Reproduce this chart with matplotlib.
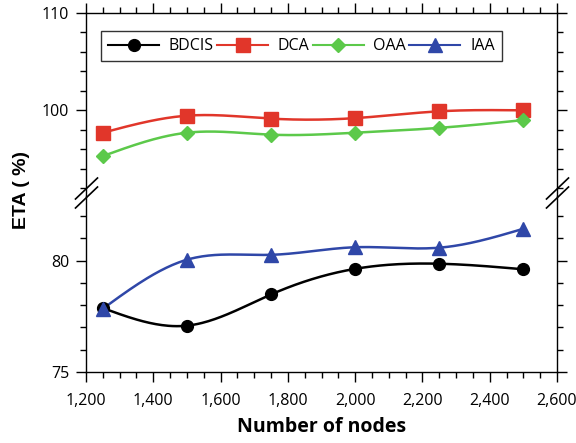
import numpy as np
import matplotlib
matplotlib.use("Agg")
import matplotlib.pyplot as plt
from matplotlib.lines import Line2D
from matplotlib.ticker import MultipleLocator, FuncFormatter

plt.rcParams['font.family'] = ['Open Sans', 'DejaVu Sans']

# data
nodes = [1250, 1500, 1750, 2000, 2250, 2500]
bdcis = [77.87, 77.08, 78.48, 79.63, 79.86, 79.61]
dca = [97.7, 99.45, 99.15, 99.2, 99.9, 100.0]
oaa = [95.3, 97.7, 97.5, 97.7, 98.2, 99.0]
iaa = [77.84, 80.04, 80.26, 80.6, 80.58, 81.43]


def smooth(x, y, n=200):
    # natural cubic spline through the points, for the drawn curve only
    x = np.asarray(x, float)
    y = np.asarray(y, float)
    k = len(x)
    h = np.diff(x)
    A = np.zeros((k, k))
    b = np.zeros(k)
    A[0, 0] = A[-1, -1] = 1
    for i in range(1, k - 1):
        A[i, i - 1] = h[i - 1]
        A[i, i] = 2 * (h[i - 1] + h[i])
        A[i, i + 1] = h[i]
        b[i] = 6 * ((y[i + 1] - y[i]) / h[i] - (y[i] - y[i - 1]) / h[i - 1])
    m = np.linalg.solve(A, b)
    xs = np.linspace(x[0], x[-1], n)
    idx = np.clip(np.searchsorted(x, xs) - 1, 0, k - 2)
    t0 = xs - x[idx]
    t1 = x[idx + 1] - xs
    hi = h[idx]
    ys = (m[idx] * t1 ** 3 / (6 * hi) + m[idx + 1] * t0 ** 3 / (6 * hi)
          + (y[idx] / hi - m[idx] * hi / 6) * t1
          + (y[idx + 1] / hi - m[idx + 1] * hi / 6) * t0)
    return xs, ys


fig = plt.figure(figsize=(5.76, 4.43), dpi=100)
W, H = 576, 443
x0, x1 = 86, 557
yt, ybrk, yb = 13, 196, 372
ax_top = fig.add_axes([x0 / W, 1 - ybrk / H, (x1 - x0) / W, (ybrk - yt) / H])
ax_bot = fig.add_axes([x0 / W, 1 - yb / H, (x1 - x0) / W, (yb - ybrk) / H])

series = [
    ('BDCIS', bdcis, 'black', 'o', 8.5, ax_bot),
    ('DCA', dca, '#e1362a', 's', 9.5, ax_top),
    ('OAA', oaa, '#5cc94a', 'D', 7.5, ax_top),
    ('IAA', iaa, '#2f47a8', '^', 10, ax_bot),
]
handles = []
for name, vals, col, mk, ms, ax in series:
    xs, ys = smooth(nodes, vals)
    ax.plot(xs, ys, color=col, lw=1.8, zorder=2)
    ax.plot(nodes, vals, ls='none', marker=mk, ms=ms, color=col, zorder=3)
    handles.append(Line2D([], [], color=col, lw=1.5, marker=mk, ms=ms))

for ax in (ax_top, ax_bot):
    ax.set_xlim(1200, 2600)
    ax.xaxis.set_major_locator(MultipleLocator(200))
    ax.xaxis.set_minor_locator(MultipleLocator(50))
    ax.tick_params(which='both', direction='out', width=1, labelsize=11.5)
    ax.tick_params(which='major', length=7)
    ax.tick_params(which='minor', length=4)
    ax.tick_params(axis='y', which='both', left=True, right=True,
                   labelright=False, pad=5)
    ax.tick_params(axis='x', pad=8)
    for s in ax.spines.values():
        s.set_linewidth(1)
    ax.set_facecolor('none')

ax_top.set_ylim(91.2, 110)
ax_top.yaxis.set_major_locator(MultipleLocator(10))
ax_top.yaxis.set_minor_locator(MultipleLocator(2))
ax_top.spines['bottom'].set_visible(False)
ax_top.tick_params(axis='x', which='both', bottom=False, top=True,
                   labelbottom=False, labeltop=False)

ax_bot.set_ylim(75, 82.9)
ax_bot.yaxis.set_major_locator(MultipleLocator(5))
ax_bot.yaxis.set_minor_locator(MultipleLocator(1))
ax_bot.spines['top'].set_visible(False)
ax_bot.tick_params(axis='x', which='both', top=False)
ax_bot.xaxis.set_major_formatter(FuncFormatter(lambda v, p: f'{int(v):,}'))

ax_bot.set_xlabel('Number of nodes', fontsize=14, fontweight='bold', labelpad=6)
fig.text(21 / W, 1 - 190 / H, 'ETA ( %)', rotation=90, ha='center', va='center',
         fontsize=14, fontweight='bold', family='Liberation Sans')

# break marks on both spines
for xc in (x0 + 0.5, x1 + 0.5):
    for dy in (0, 9):
        fig.add_artist(Line2D([(xc - 11) / W, (xc + 11) / W],
                              [1 - (199 + dy) / H, 1 - (178 + dy) / H],
                              color='black', lw=1.2))

leg = ax_top.legend(handles, [s[0] for s in series], ncol=4, loc='upper left',
                    bbox_to_anchor=(101 / W, 1 - 31 / H),
                    bbox_transform=fig.transFigure, borderaxespad=0,
                    fancybox=False, frameon=True, fontsize=11.5,
                    handlelength=3.2, handletextpad=0.6, columnspacing=0.2,
                    borderpad=0.45)
leg.get_frame().set_edgecolor('black')
leg.get_frame().set_linewidth(1)

fig.savefig('out.png', dpi=100)
